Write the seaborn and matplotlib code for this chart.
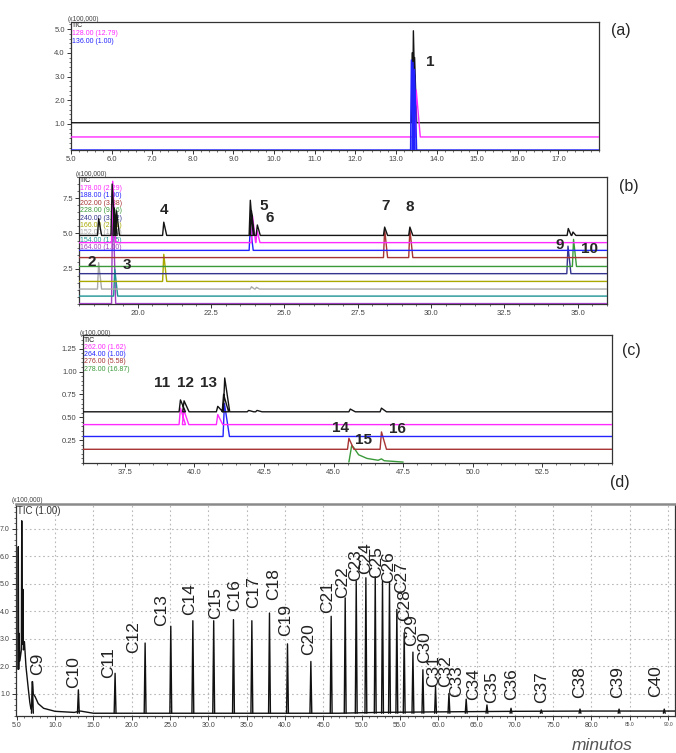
import numpy as np
import pandas as pd
import matplotlib
matplotlib.use("Agg")
import matplotlib.pyplot as plt
from matplotlib.ticker import MultipleLocator, FormatStrFormatter, FixedLocator
import seaborn as sns

sns.set_style("ticks")
plt.rcParams['font.family'] = ['Liberation Sans', 'DejaVu Sans']

# ---------------- data: panel (a) ----------------
a_traces = ['TIC', '128.00 (12.79)', '136.00 (1.00)']
a_base = [1.05, 0.45, -0.10]
a_peak_x = [[13.40, 13.43, 13.46], [13.50], [13.38, 13.42, 13.46]]
a_peak_h = [[4.00, 4.93, 3.80], [2.43], [3.70, 3.60, 3.30]]
a_numbers = ['1']

# ---------------- data: panel (b) ----------------
b_traces = ['TIC', '178.00 (2.29)', '188.00 (1.00)', '202.00 (3.38)', '228.00 (9.56)',
            '240.00 (3.42)', '166.00 (2.61)', '152.00 (1.71)', '154.00 (1.75)', '164.00 (1.00)']
b_base = [4.86, 4.35, 3.80, 3.29, 2.66, 2.15, 1.60, 1.06, 0.56, 0.03]
b_peak_x = [[18.67, 19.13, 19.20, 19.28, 20.89, 23.84, 23.88, 24.08, 28.42, 29.28, 34.68, 34.84],
            [19.15, 23.92, 24.07],
            [23.84],
            [28.42, 29.28],
            [34.86],
            [34.67],
            [20.89],
            [18.67, 23.88, 24.05],
            [19.22],
            [19.15]]
b_peak_h = [[6.05, 8.50, 6.80, 6.60, 5.80, 7.35, 6.60, 5.60, 5.45, 5.45, 5.35, 5.10],
            [8.70, 6.20, 5.20],
            [5.50],
            [5.30, 5.30],
            [4.58],
            [4.10],
            [3.52],
            [2.93, 1.22, 1.18],
            [2.46],
            [8.00]]
b_numbers = ['2', '3', '4', '5', '6', '7', '8', '9', '10']

# ---------------- data: panel (c) ----------------
c_traces = ['TIC', '262.00 (1.62)', '264.00 (1.00)', '276.00 (5.58)', '278.00 (16.87)']
c_base = [0.56, 0.42, 0.29, 0.15]
c_peak_x = [[39.50, 39.63, 40.84, 41.05, 41.09, 41.95, 42.25, 45.60, 46.72],
            [39.50, 39.62, 40.84],
            [41.08],
            [45.55, 46.72]]
c_peak_h = [[0.69, 0.68, 0.62, 0.75, 0.93, 0.575, 0.575, 0.59, 0.60],
            [0.60, 0.58, 0.53],
            [0.65],
            [0.27, 0.34]]
c_green_x = [45.55, 45.65, 45.72, 45.90, 46.20, 46.60, 46.72, 46.82, 47.50]
c_green_y = [0.01, 0.19, 0.17, 0.09, 0.05, 0.03, 0.045, 0.025, 0.01]
c_numbers = ['11', '12', '13', '14', '15', '16']

# ---------------- data: panel (d) ----------------
d_base_x = [5.15, 5.20, 5.25, 5.30, 5.40, 5.60, 5.65, 5.72, 5.80, 5.87, 6.00, 6.20, 6.50,
            6.70, 6.85, 7.00, 7.04, 7.15, 7.40, 7.80, 8.50, 10.0, 12.5, 13.3, 15.0,
            20.0, 47.0, 52.0, 60.0, 70.0, 80.0, 90.9]
d_base_y = [1.90, 6.35, 1.90, 3.20, 2.20, 2.60, 7.29, 2.80, 4.80, 2.60, 2.90, 2.00, 1.20,
            0.70, 0.45, 0.60, 1.45, 1.00, 0.90, 0.65, 0.48, 0.37, 0.33, 0.38, 0.30,
            0.30, 0.30, 0.33, 0.35, 0.37, 0.38, 0.38]
d_names = ['C9', 'C10', 'C11', 'C12', 'C13', 'C14', 'C15', 'C16', 'C17', 'C18', 'C19', 'C20',
           'C21', 'C22', 'C23', 'C24', 'C25', 'C26', 'C27', 'C28', 'C29', 'C30', 'C31', 'C32',
           'C33', 'C34', 'C35', 'C36', 'C37', 'C38', 'C39', 'C40']
d_time = [7.04, 13.04, 17.83, 21.75, 25.10, 27.98, 30.70, 33.28, 35.68, 37.98, 40.33, 43.38,
          46.03, 47.86, 49.30, 50.56, 51.78, 52.73, 53.64, 54.60, 55.56, 56.70, 58.00, 59.65,
          61.40, 63.65, 66.36, 69.50, 73.45, 78.50, 83.60, 89.50]
d_height = [1.45, 1.15, 1.75, 2.85, 3.46, 3.66, 3.66, 3.70, 3.66, 3.94, 2.82, 2.18,
            3.82, 4.49, 5.10, 5.22, 5.26, 5.10, 5.06, 4.07, 3.22, 2.52, 1.88, 1.27,
            1.02, 0.81, 0.60, 0.48, 0.42, 0.45, 0.45, 0.45]
d_floor = 0.30

# ---------------- layout of the annotation texts (not data) ----------------
d_label_dx = [0.65, -0.6, -0.9, -1.5, -1.2, -0.4, 0.2, 0.2, 0.2, 0.5, -0.2, -0.3,
              -0.5, -0.3, -0.1, 0.0, 0.2, 0.8, 1.6, 1.0, 1.0, 1.5, 1.4, 1.35,
              1.0, 1.0, 0.6, 0.1, 0.0, -0.1, -0.2, -1.1]
d_label_bottom = [1.69, 1.20, 1.57, 2.49, 3.46, 3.88, 3.74, 4.00, 4.12, 4.43, 3.09, 2.42,
                  3.94, 4.50, 5.10, 5.34, 5.23, 5.04, 4.67, 3.64, 2.73, 2.13, 1.27, 1.27,
                  0.90, 0.78, 0.66, 0.78, 0.66, 0.84, 0.84, 0.88]

# ---------------- styles ----------------
COL = {
    'black': '#141414', 'magenta': '#ff2aff', 'blue': '#2323ff', 'brown': '#a83434',
    'green': '#3a9a3a', 'navy': '#34348f', 'olive': '#a8a800', 'gray': '#a9a9a9',
    'teal': '#1e9393', 'purple': '#a040c0',
}
a_colors = [COL['black'], COL['magenta'], COL['blue']]
b_colors = [COL['black'], COL['magenta'], COL['blue'], COL['brown'], COL['green'],
            COL['navy'], COL['olive'], COL['gray'], COL['teal'], COL['purple']]
c_colors = [COL['black'], COL['magenta'], COL['blue'], COL['brown'], COL['green']]


def build(traces, bases, pxs, phs, x0, x1, rise, falls):
    rows = []
    for name, base, px, ph, fall in zip(traces, bases, pxs, phs, falls):
        rows.append((name, x0, base))
        for x, h in sorted(zip(px, ph)):
            rows += [(name, x - rise, base), (name, x, h), (name, x + fall, base)]
        rows.append((name, x1, base))
    return pd.DataFrame(rows, columns=['trace', 'x', 'y'])


W, H = 676, 753
fig = plt.figure(figsize=(W / 100, H / 100), dpi=100)


def add_ax(l, r, t, b):
    return fig.add_axes([l / W, 1 - b / H, (r - l) / W, (b - t) / H])


def style_ax(ax, lw=0.9, color='#333333'):
    for s in ax.spines.values():
        s.set_linewidth(lw)
        s.set_color(color)
    ax.tick_params(which='major', direction='out', length=3, width=0.7, labelsize=5.5,
                   colors='#333333', labelcolor='#444444', pad=1.5)
    ax.tick_params(which='minor', direction='out', length=1.6, width=0.5, colors='#333333')
    ax.set_xlabel('')
    ax.set_ylabel('')


def legend_text(ax, names, colors, top_px, step_px, h_px):
    for i, (n, c) in enumerate(zip(names, colors)):
        ax.text(0.002, 1 - (top_px + step_px * i) / h_px, n, color=c, fontsize=5,
                transform=ax.transAxes, va='center', ha='left', zorder=1)


def scale_text(ax, dy_px, h_px):
    ax.text(-0.006, 1 + dy_px / h_px, '(x100,000)', fontsize=4.8, color='#444444',
            transform=ax.transAxes, va='center', ha='left', clip_on=False)


# ---------------- panel (a) ----------------
ax_a = add_ax(71, 599, 22, 150)
df_a = build(a_traces, a_base, a_peak_x, a_peak_h, 5.0, 18.0, 0.02, [0.05, 0.10, 0.05])
sns.lineplot(data=df_a, x='x', y='y', hue='trace', hue_order=a_traces,
             palette=dict(zip(a_traces, a_colors)), estimator=None, sort=False,
             legend=False, linewidth=1.0, ax=ax_a, zorder=3)
ax_a.set_xlim(5.0, 18.0)
ax_a.set_ylim(-0.1, 5.3)
ax_a.xaxis.set_major_locator(FixedLocator(np.arange(5, 18, 1.0)))
ax_a.xaxis.set_minor_locator(MultipleLocator(0.2))
ax_a.yaxis.set_major_locator(FixedLocator([1, 2, 3, 4, 5]))
ax_a.yaxis.set_minor_locator(MultipleLocator(0.2))
ax_a.xaxis.set_major_formatter(FormatStrFormatter('%.1f'))
ax_a.yaxis.set_major_formatter(FormatStrFormatter('%.1f'))
style_ax(ax_a)
legend_text(ax_a, a_traces, a_colors, 3, 8.3, 128)
scale_text(ax_a, 3, 128)
ax_a.text(13.84, 3.62, a_numbers[0], fontsize=11, fontweight='bold', ha='center', va='center')

# ---------------- panel (b) ----------------
ax_b = add_ax(79, 607, 177, 304)
df_b = build(b_traces, b_base, b_peak_x, b_peak_h, 18.0, 36.0, 0.04, [0.10] * len(b_traces))
b_draw = b_traces[::-1]
sns.lineplot(data=df_b, x='x', y='y', hue='trace', hue_order=b_draw,
             palette=dict(zip(b_traces, b_colors)), estimator=None, sort=False,
             legend=False, linewidth=1.0, ax=ax_b, zorder=3)
ax_b.set_xlim(18.0, 36.0)
ax_b.set_ylim(0, 9.0)
ax_b.xaxis.set_major_locator(FixedLocator(np.arange(20, 36, 2.5)))
ax_b.xaxis.set_minor_locator(MultipleLocator(0.5))
ax_b.yaxis.set_major_locator(FixedLocator([2.5, 5.0, 7.5]))
ax_b.yaxis.set_minor_locator(MultipleLocator(0.5))
ax_b.xaxis.set_major_formatter(FormatStrFormatter('%.1f'))
ax_b.yaxis.set_major_formatter(FormatStrFormatter('%.1f'))
style_ax(ax_b)
legend_text(ax_b, b_traces, b_colors, 4, 7.4, 127)
scale_text(ax_b, 3, 127)
b_num_pos = [(18.44, 2.95), (19.65, 2.78), (20.89, 6.64), (24.29, 6.92), (24.51, 6.10),
             (28.44, 6.97), (29.28, 6.88), (34.40, 4.20), (35.40, 3.90)]
for t, (x, y) in zip(b_numbers, b_num_pos):
    ax_b.text(x, y, t, fontsize=11, fontweight='bold', ha='center', va='center', zorder=5)

# ---------------- panel (c) ----------------
ax_c = add_ax(83, 612, 335, 463)
df_c = build(c_traces[:4], c_base, c_peak_x, c_peak_h, 36.0, 55.0, 0.05, [0.18] * 4)
df_c = pd.concat([df_c, pd.DataFrame({'trace': c_traces[4], 'x': c_green_x, 'y': c_green_y})],
                 ignore_index=True)
sns.lineplot(data=df_c, x='x', y='y', hue='trace', hue_order=c_traces[::-1],
             palette=dict(zip(c_traces, c_colors)), estimator=None, sort=False,
             legend=False, linewidth=1.0, ax=ax_c, zorder=3)
ax_c.set_xlim(36.0, 55.0)
ax_c.set_ylim(0, 1.4)
ax_c.xaxis.set_major_locator(FixedLocator(np.arange(37.5, 55, 2.5)))
ax_c.xaxis.set_minor_locator(MultipleLocator(0.5))
ax_c.yaxis.set_major_locator(FixedLocator([0.25, 0.5, 0.75, 1.0, 1.25]))
ax_c.yaxis.set_minor_locator(MultipleLocator(0.05))
ax_c.xaxis.set_major_formatter(FormatStrFormatter('%.1f'))
ax_c.yaxis.set_major_formatter(FormatStrFormatter('%.2f'))
style_ax(ax_c)
legend_text(ax_c, c_traces, c_colors, 5, 7.3, 128)
scale_text(ax_c, 2, 128)
c_num_pos = [(38.83, 0.88), (39.67, 0.88), (40.50, 0.88), (45.24, 0.38), (46.08, 0.25),
             (47.28, 0.37)]
for t, (x, y) in zip(c_numbers, c_num_pos):
    ax_c.text(x, y, t, fontsize=11, fontweight='bold', ha='center', va='center', zorder=5)

# ---------------- panel (d) ----------------
ax_d = add_ax(16, 675, 504, 716)
rows = [('base', i, x, y) for i, (x, y) in enumerate(zip(d_base_x, d_base_y))]
for k, (t, h) in enumerate(zip(d_time, d_height)):
    rows += [('pk%d' % k, 0, t - 0.12, d_floor), ('pk%d' % k, 1, t, h),
             ('pk%d' % k, 2, t + 0.12, d_floor)]
df_d = pd.DataFrame(rows, columns=['unit', 'i', 'x', 'y'])
sns.lineplot(data=df_d, x='x', y='y', units='unit', estimator=None, sort=False,
             color='#111111', linewidth=1.0, legend=False, ax=ax_d, zorder=3)
ax_d.set_xlim(4.9, 90.9)
ax_d.set_ylim(0.2, 7.9)
ax_d.xaxis.set_major_locator(FixedLocator(np.arange(5, 91, 5.0)))
ax_d.xaxis.set_minor_locator(MultipleLocator(1.0))
ax_d.yaxis.set_major_locator(FixedLocator(np.arange(1, 8, 1.0)))
ax_d.yaxis.set_minor_locator(MultipleLocator(0.2))
ax_d.xaxis.set_major_formatter(FormatStrFormatter('%.1f'))
ax_d.yaxis.set_major_formatter(FormatStrFormatter('%.1f'))
style_ax(ax_d)
ax_d.tick_params(which='major', labelsize=5)
for lab in ax_d.get_xticklabels()[-2:]:
    lab.set_fontsize(3.5)
ax_d.spines['top'].set_linewidth(1.8)
ax_d.spines['top'].set_color('#8a8a8a')
for gx in np.arange(10, 91, 5.0):
    ax_d.axvline(gx, color='#b8b8b8', lw=0.8, ls=(0, (1.5, 2.5)), zorder=1)
for gy in np.arange(1, 8, 1.0):
    ax_d.axhline(gy, color='#b8b8b8', lw=0.8, ls=(0, (1.5, 2.5)), zorder=1)
ax_d.text(0.002, 1 - 7 / 212, 'TIC (1.00)', fontsize=7, color='#333333',
          transform=ax_d.transAxes, va='center', ha='left')
scale_text(ax_d, 3, 212)
for n, t, dx, yb in zip(d_names, d_time, d_label_dx, d_label_bottom):
    ax_d.text(t + dx, yb, n, rotation=90, fontsize=12.5, ha='center', va='bottom',
              color='#222222', zorder=4)

# ---------------- figure texts ----------------
fig.text(611 / W, 1 - 31 / H, '(a)', fontsize=11.5, ha='left', va='center')
fig.text(619 / W, 1 - 187 / H, '(b)', fontsize=11.5, ha='left', va='center')
fig.text(622 / W, 1 - 350 / H, '(c)', fontsize=11.5, ha='left', va='center')
fig.text(610 / W, 1 - 483 / H, '(d)', fontsize=11.5, ha='left', va='center')
fig.text(602 / W, 1 - 745 / H, 'minutos', fontsize=12.5, style='italic', color='#555555',
         ha='center', va='center')

fig.savefig('out.png', dpi=100)
